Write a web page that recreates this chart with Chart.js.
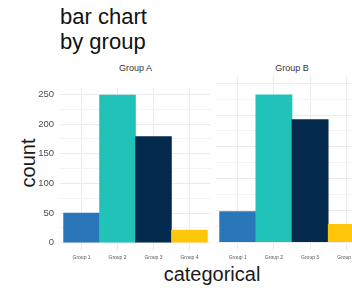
<!DOCTYPE html>
<html>
<head>
<meta charset="utf-8">
<script src="https://cdn.jsdelivr.net/npm/chart.js@4.4.1/dist/chart.umd.min.js"></script>
<style>
  html, body { margin: 0; padding: 0; background: #fff; }
  body { width: 352px; height: 288px; position: relative; overflow: hidden; font-family: "Liberation Sans", Arial, sans-serif; color: #1a1a1a; }
  canvas { position: absolute; }
  .txt { position: absolute; white-space: nowrap; }
  #title { left: 60px; top: 4px; font-size: 22px; line-height: 25px; color: #111; }
  .strip { top: 63px; font-size: 9px; line-height: 10px; transform: translateX(-50%); color: #333; }
  #ytitle { left: 28px; top: 163px; font-size: 20px; line-height: 20px; transform: translate(-50%, -50%) rotate(-90deg); }
  #xtitle { left: 212px; top: 264px; font-size: 20px; line-height: 20px; transform: translateX(-50%); }
</style>
</head>
<body>
<div id="title" class="txt">bar chart<br>by group</div>
<div class="txt strip" id="stripA" style="left:135.5px">Group A</div>
<div class="txt strip" id="stripB" style="left:292px">Group B</div>
<div id="ytitle" class="txt">count</div>
<div id="xtitle" class="txt">categorical</div>
<canvas id="panelA" width="211" height="190" style="left:0px; top:76px"></canvas>
<canvas id="panelB" width="152" height="190" style="left:216px; top:76px"></canvas>

<script>
// data
const categories = ['Group 1', 'Group 2', 'Group 3', 'Group 4'];
const valuesA = [50, 249, 179, 21];
const valuesB = [48, 232, 193, 28];
const barColors = ['#2a76bb', '#21c3b9', '#032a4d', '#ffc60a'];
const yMajor = [0, 50, 100, 150, 200, 250];
const yMinor = [25, 75, 125, 175, 225];

const yMin = -12.45;
const yMax = 261.5;

function makePanel(id, values, showY) {
    const ctx = document.getElementById(id);
    return new Chart(ctx, {
        type: 'bar',
        data: {
            datasets: [{
                data: values.map((v, i) => ({ x: i + 1, y: v })),
                backgroundColor: barColors,
                borderWidth: 0,
                barPercentage: 1,
                categoryPercentage: 1
            }]
        },
        options: {
            responsive: false,
            animation: false,
            devicePixelRatio: 1,
            layout: { padding: 0 },
            plugins: { legend: { display: false }, tooltip: { enabled: false } },
            scales: {
                x: {
                    type: 'linear',
                    min: 0.4,
                    max: 4.6,
                    offset: false,
                    afterBuildTicks: s => { s.ticks = categories.map((c, i) => ({ value: i + 1 })); },
                    afterFit: s => { s.height = 16; },
                    border: { display: false },
                    grid: {
                        drawTicks: false,
                        offset: false,
                        // only the category centres get a vertical line
                        color: c => (c.tick && Number.isInteger(c.tick.value)) ? '#ebebeb' : 'rgba(0,0,0,0)'
                    },
                    ticks: {
                        autoSkip: false,
                        maxRotation: 0,
                        padding: 5,
                        color: '#555',
                        font: { family: 'Liberation Sans', size: 5 },
                        callback: v => categories[v - 1]
                    }
                },
                y: {
                    min: yMin,
                    max: yMax,
                    afterBuildTicks: s => {
                        s.ticks = yMajor.concat(yMinor).sort((a, b) => a - b).map(v => ({ value: v }));
                    },
                    afterFit: s => { s.width = showY ? 60 : 0; },
                    border: { display: false },
                    grid: {
                        drawTicks: false,
                        color: c => (c.tick && yMajor.includes(c.tick.value)) ? '#ebebeb' : '#f4f4f4'
                    },
                    ticks: {
                        display: showY,
                        padding: 6,
                        color: '#4d4d4d',
                        font: { family: 'Liberation Sans', size: 9.5 },
                        callback: v => yMajor.includes(v) ? String(v) : ''
                    }
                }
            }
        }
    });
}

makePanel('panelA', valuesA, true);
makePanel('panelB', valuesB, false);
</script>
</body>
</html>
